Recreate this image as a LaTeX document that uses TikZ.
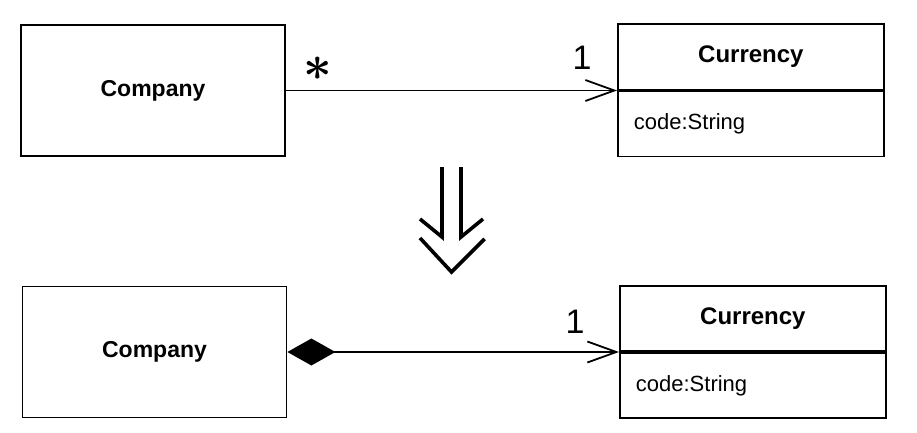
\documentclass[tikz,border=0pt]{standalone}
\usepackage{fontspec}
\setmainfont{Liberation Sans}
\usetikzlibrary{arrows.meta,positioning}

\begin{document}
\begin{tikzpicture}[x=1pt,y=-1pt,line width=1.8pt,
    cls/.style={draw,minimum width=264pt,minimum height=131pt,inner sep=0pt,
      font=\fontsize{23}{23}\selectfont\bfseries},
    head/.style={draw,minimum width=266pt,minimum height=65.5pt,inner sep=0pt,
      font=\fontsize{24}{24}\selectfont\bfseries},
    attr/.style={draw,minimum height=65pt,text width=234pt,align=left,
      inner xsep=16pt,inner ysep=0pt,font=\fontsize{22}{22}\selectfont},
    mult/.style={inner sep=0pt,font=\fontsize{34}{34}\selectfont},
    barb/.style={-{Straight Barb[length=29pt,width=21pt]}}]
  \useasboundingbox (0,0) rectangle (917,433);

  % before
  \node[cls] (comp) at (153,90.5) {Company};
  \node[head,anchor=south west] (cur) at (617,90.5) {Currency};
  \node[attr,below=0pt of cur] (code) {code:String};
  \draw[barb] (comp.east) -- (cur.south west);
  \node[inner sep=0pt,font=\fontsize{24}{24}\selectfont\boldmath] (many) at (318,69)
    {\scalebox{2}{$\ast$}};
  \node[mult] (one) at (582,58) {1};

  % refactoring arrow
  \coordinate (tf) at (451.5,167);
  \foreach \s in {-1,1} {
    \draw[line width=3.6pt] ([xshift=\s*9.5pt]tf) -- ++(0,70) -- ++(\s*22,-18);
  }
  \draw[line width=3.6pt] (tf) ++(-31.5,71) -- ++(31.5,34) -- ++(33,-33);

  % after
  \node[cls] (comp2) at (154.5,352) {Company};
  \node[head,anchor=south west] (cur2) at (619,352) {Currency};
  \node[attr,below=0pt of cur2] (code2) {code:String};
  \draw[{Diamond[length=48pt,width=27pt]}-{Straight Barb[length=29pt,width=21pt]}]
    (comp2.east) -- (cur2.south west);
  \node[mult] (one2) at (575,322) {1};
\end{tikzpicture}
\end{document}
